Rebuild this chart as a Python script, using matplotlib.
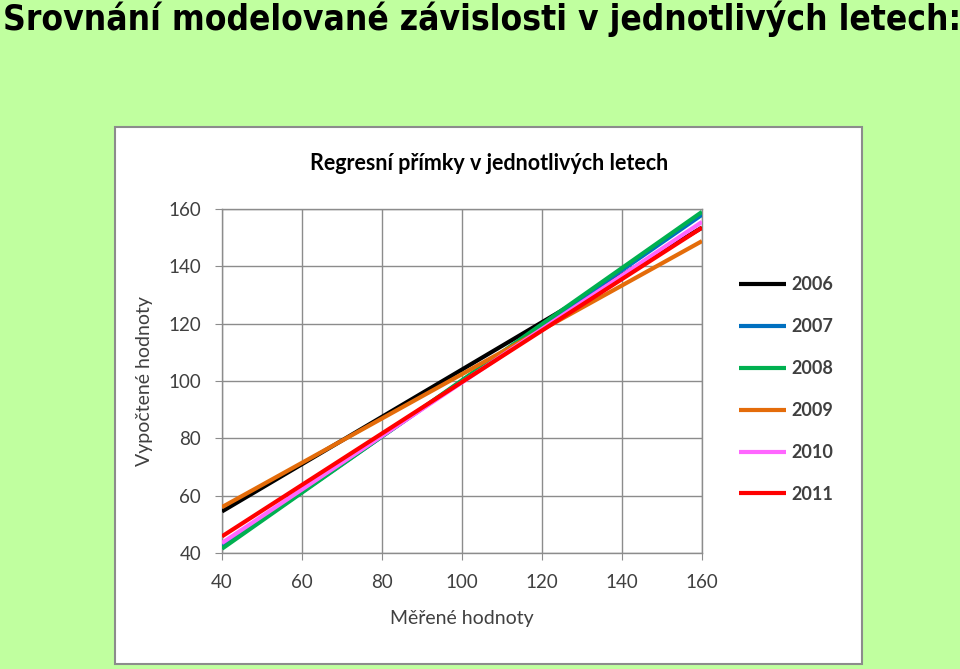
import matplotlib
matplotlib.use("Agg")
import matplotlib.pyplot as plt
from matplotlib.patches import Rectangle

# regression lines (value at x=40 and x=160)
x_vals = [40, 160]
years = ["2006", "2007", "2008", "2009", "2010", "2011"]
y2006 = [54.5, 153.5]
y2007 = [42.0, 158.0]
y2008 = [41.5, 159.0]
y2009 = [56.0, 148.8]
y2010 = [43.5, 155.5]
y2011 = [45.8, 153.5]
series = [y2006, y2007, y2008, y2009, y2010, y2011]
colors = ["#000000", "#0070c0", "#00b050", "#e46c0a", "#ff66ff", "#ff0000"]
ticks = [40, 60, 80, 100, 120, 140, 160]

bg = "#c0ff9f"
fig = plt.figure(figsize=(9.6, 6.69), dpi=100, facecolor=bg)

fig.text(0.003, 0.999, "Srovnání modelované závislosti v jednotlivých letech:",
         ha="left", va="top", fontsize=25.3, fontweight="bold", fontstretch="condensed",
         family="DejaVu Sans", color="black")

# white chart box
box = Rectangle((0.1198, 0.0075), 0.778, 0.8027, transform=fig.transFigure,
                facecolor="white", edgecolor="#8c8c8c", linewidth=1.5, zorder=-10)
fig.patches.append(box)

fig.text(0.51, 0.756, "Regresní přímky v jednotlivých letech", ha="center", va="center",
         fontsize=15.5, family="Lato", fontweight="bold", color="black")

ax = fig.add_axes([0.23125, 0.1734, 0.5, 0.5142])
ax.set_facecolor("white")
for yr, ys, c in zip(years, series, colors):
    ax.plot(x_vals, ys, color=c, lw=3, label=yr, solid_capstyle="butt")

ax.set_xlim(40, 160)
ax.set_ylim(40, 160)
ax.set_xticks(ticks)
ax.set_yticks(ticks)
ax.grid(True, color="#8c8c8c", lw=1)
ax.set_axisbelow(True)
for s in ax.spines.values():
    s.set_color("#8c8c8c")
    s.set_linewidth(1)
    s.set_zorder(0.5)
ax.tick_params(colors="#8c8c8c", labelcolor="#404040", labelsize=13.5, length=5,
               direction="out", pad=10)
for lab in ax.get_xticklabels() + ax.get_yticklabels():
    lab.set_family("Lato")
ax.set_xlabel("Měřené hodnoty", fontsize=14, family="Lato", color="#404040", labelpad=14)
ax.set_ylabel("Vypočtené hodnoty", fontsize=14, family="Lato", color="#404040", labelpad=11)

leg = ax.legend(loc="upper left", bbox_to_anchor=(1.043, 0.852), frameon=False,
                handlelength=2.6, handletextpad=0.3, labelspacing=1.38,
                prop={"family": "Lato", "size": 13, "weight": "bold"})
for t in leg.get_texts():
    t.set_color("#404040")

fig.savefig("out.png", dpi=100, facecolor=bg)
